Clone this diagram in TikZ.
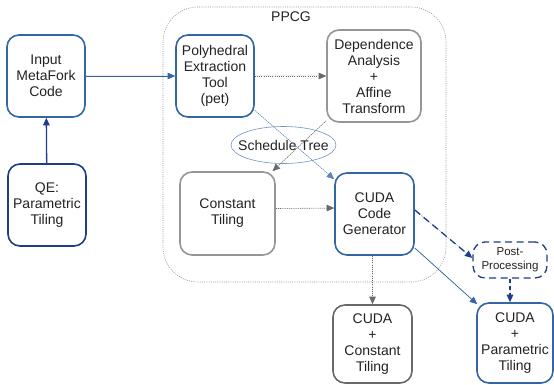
\documentclass[tikz,border=0pt]{standalone}
\usepackage{fontspec}
\setmainfont{Liberation Sans}
\usetikzlibrary{arrows.meta,shapes.geometric,calc}
\definecolor{boxblue}{RGB}{52,101,164}
\definecolor{darkblue}{RGB}{31,60,136}
\definecolor{lightgray}{RGB}{150,150,150}
\definecolor{midgray}{RGB}{105,105,105}
\definecolor{txt}{RGB}{34,34,34}
\begin{document}
\begin{tikzpicture}[x=1pt,y=-1pt,
  box/.style={draw, rectangle, rounded corners=12pt, line width=1.6pt, align=center,
    text=txt, font=\fontsize{14}{16}\selectfont, inner sep=0pt},
  bluebox/.style={box, draw=boxblue},
  graybox/.style={box, draw=lightgray},
  tip/.style={-{Triangle[length=7.5pt,width=6.5pt]}},
  dotgray/.style={tip, draw=midgray, fill=midgray, line width=0.6pt, dash pattern=on 1pt off 1.2pt},
  dotblue/.style={tip, draw=boxblue!80, fill=boxblue, line width=0.6pt, dash pattern=on 1pt off 1.2pt},
  thinblue/.style={tip, draw=boxblue, fill=boxblue, line width=0.7pt},
  dashblue/.style={tip, draw=darkblue, fill=darkblue, line width=1.3pt, dash pattern=on 7pt off 4.5pt}
]
\useasboundingbox (0,0) rectangle (554,385);
\draw[lightgray, line width=0.6pt, dash pattern=on 1pt off 1.2pt, rounded corners=35pt] (163,7) rectangle (446,282);
\node[text=txt, font=\fontsize{14}{16}\selectfont] (ppcg) at (291,17) {PPCG};

\node[bluebox, minimum width=78pt, minimum height=82pt] (input) at (46,76) {Input\\MetaFork\\Code};
\node[box, draw=darkblue, minimum width=78pt, minimum height=82pt] (qe) at (47,205) {QE:\\Parametric\\Tiling};
\node[bluebox, minimum width=78pt, minimum height=82pt] (poly) at (215,76) {Polyhedral\\Extraction\\Tool\\(pet)};
\node[graybox, minimum width=94pt, minimum height=92pt] (dep) at (374,76) {Dependence\\Analysis\\+\\Affine\\Transform};
\node[inner sep=0pt, text=txt, font=\fontsize{14}{16}\selectfont] (sched) at (283.5,145) {Schedule Tree};
\draw[draw=boxblue!70, line width=0.6pt] (sched.center) ellipse [x radius=52.5, y radius=18.5];
\node[graybox, minimum width=95pt, minimum height=83pt] (const) at (227.5,213.5) {Constant\\Tiling};
\node[bluebox, minimum width=79pt, minimum height=82pt] (cg) at (374.5,214) {CUDA\\Code\\Generator};
\node[box, draw=midgray, minimum width=79pt, minimum height=78pt] (cc) at (372.5,344) {CUDA\\+\\Constant\\Tiling};
\node[bluebox, minimum width=76pt, minimum height=80pt] (param) at (515,343) {CUDA\\+\\Parametric\\Tiling};
\node[box, draw=darkblue, line width=1.3pt, dash pattern=on 7pt off 4.5pt, minimum width=74pt, minimum height=36pt,
  font=\fontsize{11.5}{14}\selectfont] (post) at (510,260) {Post-\\Processing};

\draw[thinblue] (input) -- (poly);
\draw[tip, draw=darkblue, fill=darkblue, line width=1.3pt] (qe) -- (input);
\draw[dotgray] (poly) -- (dep);
\draw[dotgray] (dep) -- (const);
\draw[dotblue] (poly) -- (cg);
\draw[dotgray] ($(const.east)+(0,-5)$) -- ($(cg.west)+(0,-6)$);
\draw[dotgray] ($(cg.south)+(-2,0)$) -- (cc.north);
\draw[thinblue] ($(cg.east)+(0,34)$) -- ($(param.north west)+(1,2)$);
\draw[dashblue] ($(cg.east)+(0,-4)$) -- ($(post.west)+(0,-2)$);
\draw[dashblue, dash pattern=on 4pt off 3pt] (post.south) -- (param.north -| post.south);
\end{tikzpicture}
\end{document}
